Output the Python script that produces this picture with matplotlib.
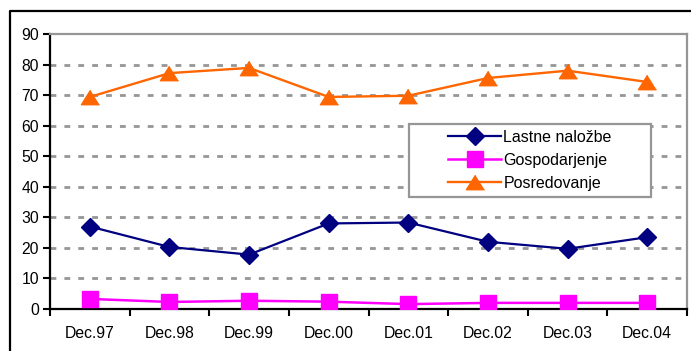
import matplotlib
matplotlib.use("Agg")
import matplotlib.pyplot as plt
from matplotlib.lines import Line2D
from matplotlib.patches import Rectangle

plt.rcParams["font.family"] = ["Liberation Sans", "DejaVu Sans"]

categories = ["Dec.97", "Dec.98", "Dec.99", "Dec.00", "Dec.01", "Dec.02", "Dec.03", "Dec.04"]
lastne_nalozbe = [27.0, 20.3, 17.8, 28.0, 28.3, 22.0, 19.7, 23.5]
gospodarjenje = [3.3, 2.3, 2.7, 2.4, 1.6, 2.0, 2.0, 2.0]
posredovanje = [69.4, 77.2, 78.9, 69.4, 69.8, 75.6, 78.0, 74.3]
y_ticks = [0, 10, 20, 30, 40, 50, 60, 70, 80, 90]

W, H = 691, 351
fig = plt.figure(figsize=(W / 100, H / 100), dpi=100)

# outer chart frame (top and left edges)
fig.add_artist(Line2D([10 / W, 10 / W, 1.0], [0.0, 1 - 10.5 / H, 1 - 10.5 / H],
                      transform=fig.transFigure, color="black", lw=1.6))

ax = fig.add_axes([50 / W, 42 / H, 637 / W, 275 / H])
x = list(range(len(categories)))

tri = [(0, 0.8), (-1, -0.8), (1, -0.8)]
ax.plot(x, lastne_nalozbe, color="#000080", lw=1.6, marker="D", ms=9,
        label="Lastne naložbe", zorder=3)
ax.plot(x, gospodarjenje, color="#FF00FF", lw=1.8, marker="s", ms=11.8,
        label="Gospodarjenje", zorder=3)
ax.plot(x, posredovanje, color="#FF6600", lw=1.7, marker=tri, ms=13,
        label="Posredovanje", zorder=3)

ax.set_xlim(-0.5, len(categories) - 0.5)
ax.set_ylim(0, 90)
ax.set_yticks(y_ticks)
for v in y_ticks[1:-1]:
    ax.axhline(v, color="#969696", lw=2.0, ls=(0, (2.1, 2.9)), zorder=1)

ax.set_xticks(x)
ax.set_xticklabels(categories)
ax.set_xticks([i - 0.5 for i in range(len(categories) + 1)], minor=True)
ax.tick_params(axis="x", which="major", length=0, pad=12, labelsize=11.3)
ax.tick_params(axis="x", which="minor", length=5, width=1.5, direction="out")
ax.tick_params(axis="y", length=5, width=1.5, direction="out", pad=3, labelsize=11.3)

for side in ("left", "bottom"):
    ax.spines[side].set_color("black")
    ax.spines[side].set_linewidth(1.6)
for side in ("top", "right"):
    ax.spines[side].set_color("#969696")
    ax.spines[side].set_linewidth(1.6)

# legend box
lx0, ly0, lx1, ly1 = 409, 124, 651, 197
ax.add_patch(Rectangle((lx0 / W, 1 - ly1 / H), (lx1 - lx0) / W, (ly1 - ly0) / H,
                       transform=fig.transFigure, facecolor="white",
                       edgecolor="#969696", lw=1.6, zorder=4, clip_on=False))
leg = ax.legend(loc="center", bbox_to_anchor=((lx0 + lx1) / 2 / W, 1 - (ly0 + ly1) / 2 / H),
                bbox_transform=fig.transFigure, frameon=False, fontsize=11.5,
                handlelength=3.3, handletextpad=0.15, labelspacing=0.5,
                borderpad=0.2)
leg.set_zorder(5)

fig.savefig("out.png", dpi=100)
